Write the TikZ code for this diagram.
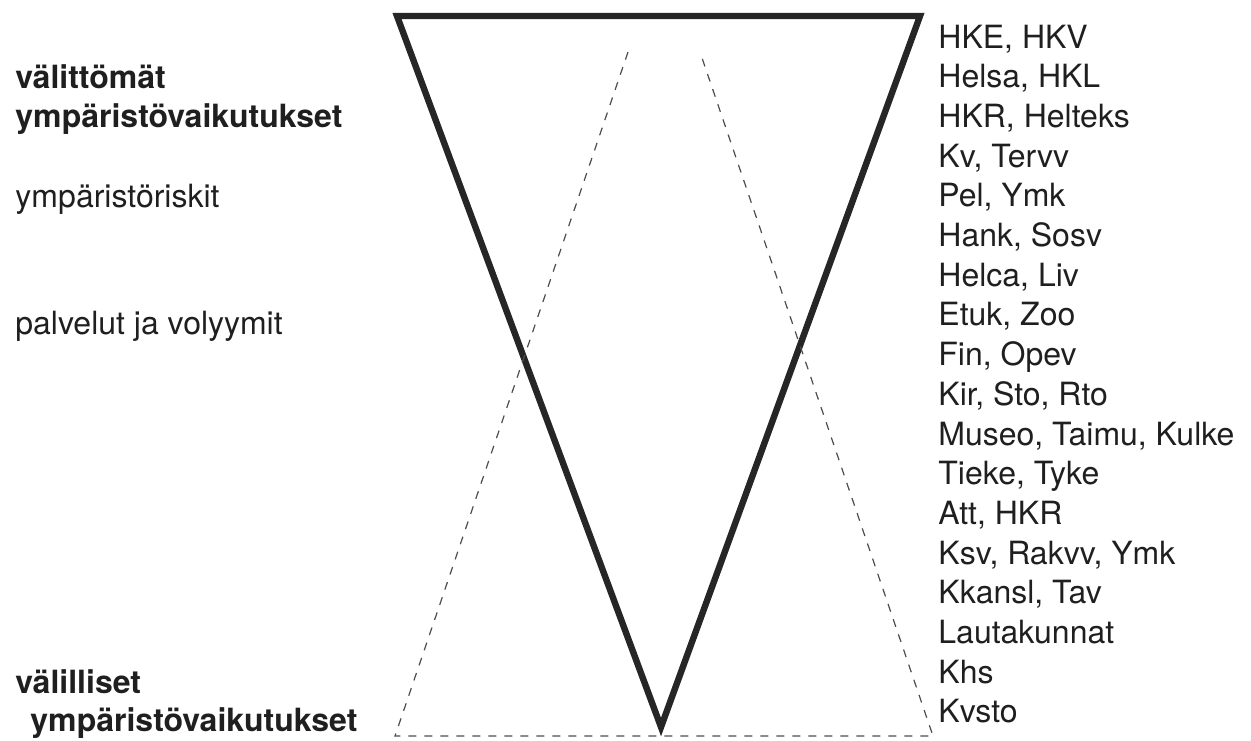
\documentclass[tikz,border=0pt]{standalone}
\usepackage{fontspec}
\setmainfont{TeX Gyre Heros}
\usepackage{tikz}
\usetikzlibrary{positioning}

\begin{document}
\begin{tikzpicture}[
  x=0.5pt, y=-0.5pt,
  font=\fontsize{16}{19}\selectfont,
  lbl/.style={anchor=base west,inner sep=0pt,text=black!88},
  lblb/.style={lbl,font=\fontsize{16}{19}\selectfont\bfseries},
  itm/.style={lbl},
  frame/.style={line width=3.2pt,draw=black!85,line join=miter},
  ghost/.style={line width=0.6pt,draw=black!70,dash pattern=on 4pt off 4pt}
]
\useasboundingbox (0,0) rectangle (1251,740);
%% ---- solid inverted triangle ---------------------------------------------
\coordinate (tl) at (397,16);
\coordinate (tr) at (920,16);
\coordinate (ap) at (661,727);
\draw[frame] (tl) -- (tr) -- (ap) -- cycle;

%% ---- dashed triangle, open at the top ------------------------------------
\coordinate (dl) at (628,52);
\coordinate (dr) at (700,52);
\coordinate (bl) at (395,736);
\coordinate (br) at (933,736);
\draw[ghost] (dl) -- (bl) -- (br) -- (dr);

%% ---- left-hand labels ----------------------------------------------------
\node[lblb] (dir1) at (15,88)  {välittömät};
\node[lblb] (dir2) at (15,127) {ympäristövaikutukset};
\node[lbl]  (risk) at (15,207) {ympäristöriskit};
\node[lbl]  (serv) at (15,334) {palvelut ja volyymit};
\node[lblb] (ind1) at (15,693) {välilliset};
\node[lblb] (ind2) at (30,731) {ympäristövaikutukset};

%% ---- right-hand list of units --------------------------------------------
\foreach \t [count=\i] in {{HKE, HKV},{Helsa, HKL},{HKR, Helteks},{Kv, Tervv},
    {Pel, Ymk},{Hank, Sosv},{Helca, Liv},{Etuk, Zoo},{Fin, Opev},
    {Kir, Sto, Rto},{Museo, Taimu, Kulke},{Tieke, Tyke},{Att, HKR},
    {Ksv, Rakvv, Ymk},{Kkansl, Tav},{Lautakunnat},{Khs},{Kvsto}}
  \node[itm] (u\i) at (938,{48+(\i-1)*39.7}) {\t};
\end{tikzpicture}
\end{document}
